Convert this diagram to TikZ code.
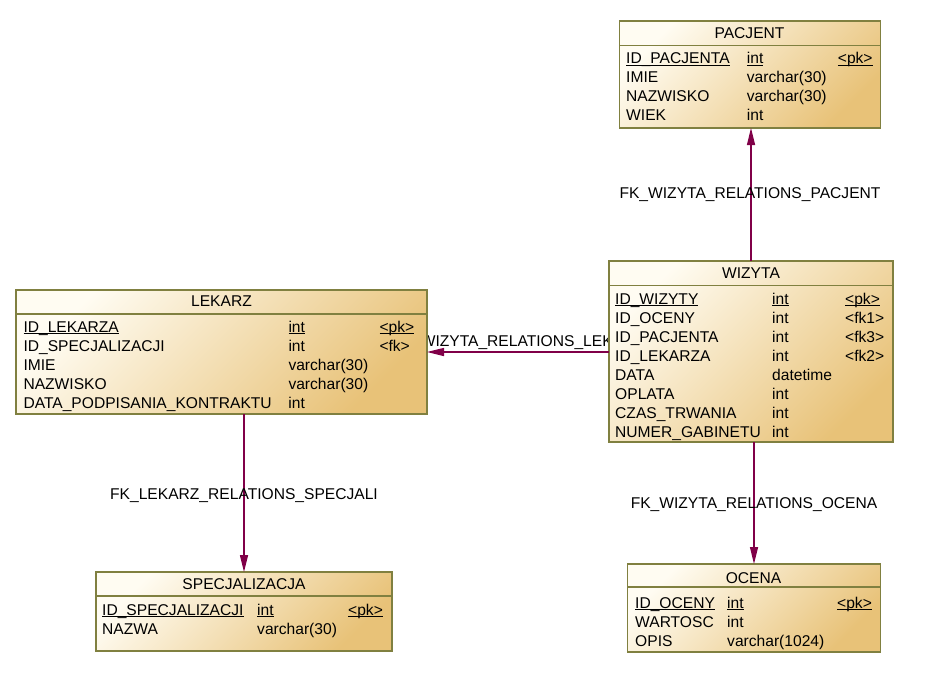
\documentclass[tikz,border=0pt]{standalone}
\usepackage{fontspec}
\setmainfont{Liberation Sans}
\usetikzlibrary{arrows.meta}
\definecolor{bordc}{RGB}{128,128,64}
\definecolor{relc}{RGB}{128,0,72}
\definecolor{boxl}{RGB}{255,252,242}
\definecolor{boxd}{RGB}{232,194,120}
\newcommand\erfont{\fontsize{15.6}{19}\selectfont}
\newcommand\ulx[1]{\underline{\smash{#1}}}
\begin{document}
\begin{tikzpicture}[x=1pt,y=-1pt,
 tbl/.style={draw=bordc, line width=1.3pt, top color=boxl, bottom color=boxd, shading angle=45, inner sep=0pt, outer sep=0pt, anchor=north west},
 sepl/.style={draw=bordc, line width=1.3pt},
 ttl/.style={anchor=base, inner sep=0pt, font=\erfont},
 cols/.style={anchor=base west, inner sep=0pt, font=\erfont},
 rel/.style={draw=relc, line width=1.3pt, -{Triangle[length=17pt,width=8pt]}},
 lbl/.style={anchor=base, inner sep=0pt, font=\erfont}]
\useasboundingbox (0,0) rectangle (933,682);

% label hidden partly behind the tables
\node[lbl] (lL) at (518,346) {FK\_WIZYTA\_RELATIONS\_LEKARZ};

% tables
\node[tbl, minimum width=261pt, minimum height=107pt] (pac) at (619.5,21) {};
\node[tbl, minimum width=284pt, minimum height=181pt] (wiz) at (609,261) {};
\node[tbl, minimum width=411pt, minimum height=124pt] (lek) at (16,290) {};
\node[tbl, minimum width=296pt, minimum height=79pt] (spe) at (96,572) {};
\node[tbl, minimum width=253pt, minimum height=88pt] (oce) at (627.5,564) {};

% header separators
\draw[sepl] (pac.west |- 0,45.7) -- (pac.east |- 0,45.7);
\draw[sepl] (wiz.west |- 0,285.7) -- (wiz.east |- 0,285.7);
\draw[sepl] (lek.west |- 0,314) -- (lek.east |- 0,314);
\draw[sepl] (spe.west |- 0,596) -- (spe.east |- 0,596);
\draw[sepl] (oce.west |- 0,587) -- (oce.east |- 0,587);

% titles
\node[ttl] (tpac) at (749.5,39) {PACJENT};
\node[ttl] (twiz) at (751,278) {WIZYTA};
\node[ttl] (tlek) at (221.5,306.5) {LEKARZ};
\node[ttl] (tspe) at (244,589) {SPECJALIZACJA};
\node[ttl] (toce) at (753.5,583) {OCENA};

% columns
\node[cols] (cpac) at (626,64) {\begin{tabular}[t]{@{}p{120.7pt}@{}p{91pt}@{}l@{}}
\ulx{ID\_PACJENTA} & \ulx{int} & \ulx{<pk>}\\
IMIE & varchar(30) & \\
NAZWISKO & varchar(30) & \\
WIEK & int &
\end{tabular}};
\node[cols] (cwiz) at (615,304) {\begin{tabular}[t]{@{}p{157pt}@{}p{73pt}@{}l@{}}
\ulx{ID\_WIZYTY} & \ulx{int} & \ulx{<pk>}\\
ID\_OCENY & int & <fk1>\\
ID\_PACJENTA & int & <fk3>\\
ID\_LEKARZA & int & <fk2>\\
DATA & datetime & \\
OPLATA & int & \\
CZAS\_TRWANIA & int & \\
NUMER\_GABINETU & int &
\end{tabular}};
\node[cols] (clek) at (23.3,332) {\begin{tabular}[t]{@{}p{265pt}@{}p{91pt}@{}l@{}}
\ulx{ID\_LEKARZA} & \ulx{int} & \ulx{<pk>}\\
ID\_SPECJALIZACJI & int & <fk>\\
IMIE & varchar(30) & \\
NAZWISKO & varchar(30) & \\
DATA\_PODPISANIA\_KONTRAKTU & int &
\end{tabular}};
\node[cols] (cspe) at (102,615) {\begin{tabular}[t]{@{}p{155pt}@{}p{91pt}@{}l@{}}
\ulx{ID\_SPECJALIZACJI} & \ulx{int} & \ulx{<pk>}\\
NAZWA & varchar(30) &
\end{tabular}};
\node[cols] (coce) at (635,608) {\begin{tabular}[t]{@{}p{92pt}@{}p{110pt}@{}l@{}}
\ulx{ID\_OCENY} & \ulx{int} & \ulx{<pk>}\\
WARTOSC & int & \\
OPIS & varchar(1024) &
\end{tabular}};

% relations
\draw[rel] (wiz.north) -- (wiz.north |- pac.south);
\draw[rel] (wiz.west |- lek.east) -- (lek.east);
\draw[rel] (lek.south -| spe.north) -- (spe.north);
\draw[rel] (wiz.south -| oce.north) -- (oce.north);

% labels
\node[lbl] (lP) at (750,198) {FK\_WIZYTA\_RELATIONS\_PACJENT};
\node[lbl] (lS) at (244,499) {FK\_LEKARZ\_RELATIONS\_SPECJALI};
\node[lbl] (lO) at (754,508) {FK\_WIZYTA\_RELATIONS\_OCENA};
\end{tikzpicture}
\end{document}
